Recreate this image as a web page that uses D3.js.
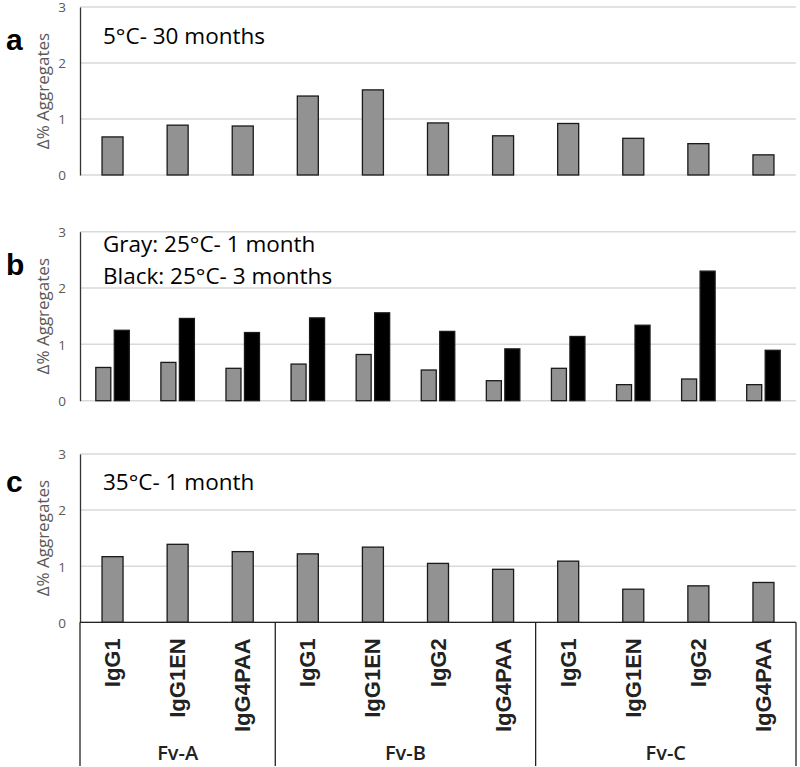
<!DOCTYPE html>
<html><head><meta charset="utf-8">
<script src="https://cdn.jsdelivr.net/npm/d3@7"></script>
<style>body{margin:0;background:#fff}svg{display:block}</style>
</head><body>
<svg id="chart" width="800" height="767"></svg>
<script>
const isotypes = ["IgG1","IgG1EN","IgG4PAA","IgG1","IgG1EN","IgG2","IgG4PAA","IgG1","IgG1EN","IgG2","IgG4PAA"];
const groups = ["Fv-A","Fv-B","Fv-C"];
const groupCounts = [3,4,4];
const yTicks = [0,1,2,3];
const a5C30m = [0.68,0.89,0.875,1.41,1.52,0.93,0.70,0.92,0.655,0.56,0.36];
const b25C1m = [0.59,0.68,0.575,0.65,0.82,0.545,0.355,0.575,0.285,0.385,0.285];
const b25C3m = [1.25,1.46,1.21,1.47,1.56,1.23,0.92,1.14,1.34,2.30,0.895];
const c35C1m = [1.17,1.39,1.26,1.22,1.34,1.05,0.945,1.09,0.59,0.65,0.71];

const svg = d3.select("#chart");
const L = 80, R = 796;
const keys = isotypes.map((d,i)=>String(i));
const x = d3.scaleBand().domain(keys).range([L,R]).paddingInner(0).paddingOuter(0);

const panels = [
  {letter:"a", top:7, bottom:175, letterY:50, notes:["5°C- 30 months"], noteY:[44], series:[{vals:a5C30m, fill:"#929292"}], bw:21, gap:0},
  {letter:"b", top:231.7, bottom:400.7, letterY:275, notes:["Gray: 25°C- 1 month","Black: 25°C- 3 months"], noteY:[252,283.5], series:[{vals:b25C1m, fill:"#929292"},{vals:b25C3m, fill:"#000"}], bw:15, gap:3.5},
  {letter:"c", top:454, bottom:622.3, letterY:492, notes:["35°C- 1 month"], noteY:[489.5], series:[{vals:c35C1m, fill:"#929292"}], bw:21, gap:0}
];

panels.forEach((p,pi)=>{
  const y = d3.scaleLinear().domain([0,3]).range([p.bottom,p.top]);
  const g = svg.append("g");
  g.selectAll("line.grid").data(yTicks).join("line")
    .attr("x1",L).attr("x2",R).attr("y1",d=>y(d)).attr("y2",d=>y(d))
    .attr("stroke","#d9d9d9").attr("stroke-width",1.5);
  const ax = g.append("g").attr("transform",`translate(${L},0)`)
    .call(d3.axisLeft(y).tickValues(yTicks).tickSize(0).tickPadding(14).tickFormat(d3.format("d")));
  ax.select(".domain").attr("stroke","#333").attr("stroke-width",1.3);
  ax.selectAll("text").attr("font-family","Open Sans, sans-serif").attr("font-size",13.5).attr("fill","#595959")
    .attr("dy","0.36em");
  g.append("text").attr("transform",`translate(49,${(p.top+p.bottom)/2}) rotate(-90)`)
    .attr("text-anchor","middle").attr("font-family","Open Sans, sans-serif").attr("font-size",17)
    .attr("fill","#595959").text("Δ% Aggregates");
  g.append("text").attr("x",6).attr("y",p.letterY).attr("font-family","Liberation Sans, Arial, sans-serif")
    .attr("font-weight","bold").attr("font-size",30).attr("fill","#000").text(p.letter);
  p.notes.forEach((t,i)=>{
    g.append("text").attr("x",103).attr("y",p.noteY[i]).attr("font-family","Open Sans, sans-serif")
      .attr("font-size",22.5).attr("fill","#000").text(t);
  });
  const n = p.series.length;
  const total = n*p.bw + (n-1)*p.gap;
  p.series.forEach((s,si)=>{
    g.selectAll(null).data(s.vals).join("rect")
      .attr("x",(d,i)=>x(keys[i]) + x.bandwidth()/2 - total/2 + si*(p.bw+p.gap))
      .attr("y",d=>y(d)).attr("width",p.bw).attr("height",d=>y(0)-y(d))
      .attr("fill",s.fill).attr("stroke","#1a1a1a").attr("stroke-width",1.3);
  });
  if(pi===2){
    g.append("line").attr("x1",L).attr("x2",R).attr("y1",y(0)).attr("y2",y(0)).attr("stroke","#222").attr("stroke-width",1.3);
    g.selectAll("text.cat").data(isotypes).join("text")
      .attr("transform",(d,i)=>`translate(${x(keys[i])+x.bandwidth()/2+7.5},${y(0)+16}) rotate(-90)`)
      .attr("text-anchor","end").attr("font-family","Liberation Sans Narrow, Liberation Sans, Arial, sans-serif")
      .attr("font-weight","bold").attr("font-size",22).attr("fill","#222").text(d=>d);
    let idx = 0;
    const bounds = [L];
    groupCounts.forEach(c=>{ idx += c; bounds.push(idx<keys.length ? x(keys[idx]) : R); });
    g.selectAll("line.sep").data(bounds).join("line")
      .attr("x1",d=>d).attr("x2",d=>d).attr("y1",y(0)).attr("y2",766)
      .attr("stroke","#222").attr("stroke-width",1.3);
    g.selectAll("text.grp").data(groups).join("text")
      .attr("x",(d,i)=>(bounds[i]+bounds[i+1])/2).attr("y",760).attr("text-anchor","middle")
      .attr("font-family","Open Sans, sans-serif").attr("font-weight",600).attr("font-size",20)
      .attr("fill","#222").text(d=>d);
  }
});
</script>
</body></html>
